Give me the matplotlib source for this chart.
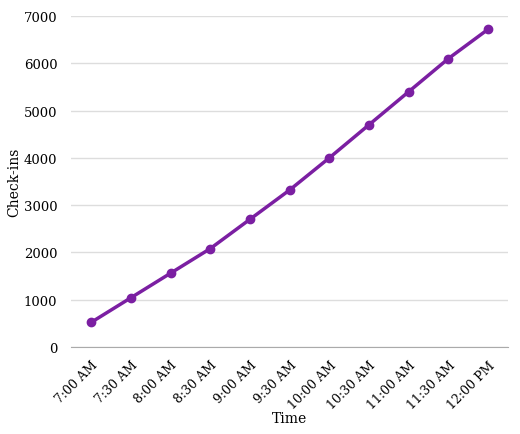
import matplotlib.pyplot as plt

times = ['7:00 AM', '7:30 AM', '8:00 AM', '8:30 AM', '9:00 AM', '9:30 AM',
         '10:00 AM', '10:30 AM', '11:00 AM', '11:30 AM', '12:00 PM']
checkins = [520, 1040, 1560, 2080, 2700, 3320, 4000, 4700, 5400, 6100, 6720]

plt.rcParams['font.family'] = ['DejaVu Serif']

fig = plt.figure(figsize=(5.2, 4.35), dpi=100)
ax = fig.add_axes([0.137, 0.2, 0.84, 0.761])

x = list(range(len(times)))
ax.plot(x, checkins, color='#7B1FA2', linewidth=2.5, marker='o', markersize=6)

ax.set_xlim(-0.5, len(times) - 0.5)
ax.set_ylim(0, 7000)
ax.set_yticks(range(0, 7001, 1000))
ax.set_xticks(x)
ax.set_xticklabels(times, rotation=45, ha='right', rotation_mode='anchor', fontsize=9)
ax.tick_params(axis='y', labelsize=9.5, length=0, pad=10)
ax.tick_params(axis='x', length=0, pad=8)

ax.grid(axis='y', color='#dddddd', linewidth=1)
ax.set_axisbelow(True)
for s in ['top', 'right', 'left']:
    ax.spines[s].set_visible(False)
ax.spines['bottom'].set_color('#aaaaaa')

ax.set_xlabel('Time', fontsize=10, labelpad=0)
ax.set_ylabel('Check-ins', fontsize=10, labelpad=2)

plt.savefig('out.png')
